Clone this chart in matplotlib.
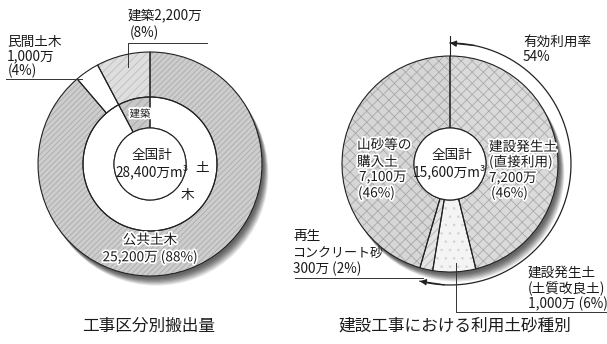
import matplotlib
matplotlib.use('Agg')
import matplotlib.pyplot as plt
from matplotlib.patches import Circle
import matplotlib.patheffects as pe
import numpy as np

plt.rcParams['font.family'] = ['Noto Sans CJK JP', 'DejaVu Sans']
plt.rcParams['hatch.linewidth'] = 0.6

# ---------------- data ----------------
left_outer_labels = ['建築', '民間土木', '公共土木']
left_outer_values = [2200, 1000, 25200]          # 万m3
left_outer_pct = [8, 4, 88]
left_inner_labels = ['建築', '土木']
left_inner_values = [2200, 26200]
left_total = 28400

right_labels = ['建設発生土(直接利用)', '建設発生土(土質改良土)', '再生コンクリート砂', '山砂等の購入土']
right_values = [7200, 1000, 300, 7100]            # 万m3
right_pct = [46, 6, 2, 46]
right_total = 15600
effective_rate = 54                                # %

titles = ['工事区分別搬出量', '建設工事における利用土砂種別']

# ---------------- layout ----------------
W, H = 607, 344
def Y(y):
    return H - y

fig = plt.figure(figsize=(W / 100, H / 100), dpi=100)
ax = fig.add_axes([0, 0, 1, 1])

LC = (150, Y(164)); L_OUT, L_MID, L_IN = 112, 67, 36
RC = (450, Y(164)); R_OUT, R_IN = 108, 36
EDGE = '#222222'
TXT = '#1a1a1a'
halo = [pe.withStroke(linewidth=2.5, foreground='white')]


def shadow(center, radius):
    for k, a in zip([8, 7, 6, 5, 4, 3, 2], [0.15, 0.18, 0.22, 0.26, 0.3, 0.35, 0.4]):
        ax.add_patch(Circle((center[0] + k * 0.8, center[1] - k * 1.2), radius,
                            facecolor='#555555', edgecolor='none', alpha=a, zorder=0))


def donut(values, center, radius, width, faces, hatches, hcolors, counterclock):
    wedges, _ = ax.pie(values, center=center, radius=radius, startangle=90,
                       counterclock=counterclock, colors=faces,
                       wedgeprops=dict(width=width, linewidth=0))
    for w, h, hc in zip(wedges, hatches, hcolors):
        w.set_hatch(h)
        w.set_edgecolor(hc)
        w.set_linewidth(0)
        w.set_zorder(1)
    wedges2, _ = ax.pie(values, center=center, radius=radius, startangle=90,
                        counterclock=counterclock,
                        wedgeprops=dict(width=width, linewidth=0.8, edgecolor=EDGE, fill=False))
    for w in wedges2:
        w.set_zorder(2)


# ---------------- left donut ----------------
shadow(LC, L_OUT)
donut(left_outer_values, LC, L_OUT, L_OUT - L_MID,
      ['#dedede', 'white', '#cdcdcd'], ['////', None, '//////'],
      ['#bdbdbd', 'white', '#ababab'], True)
donut(left_inner_values, LC, L_MID, L_MID - L_IN,
      ['#c8c8c8', 'white'], ['////', None], ['#a4a4a4', 'white'], True)
ax.add_patch(Circle(LC, L_IN, facecolor='white', edgecolor=EDGE, lw=0.8, zorder=3))

# ---------------- right donut ----------------
shadow(RC, R_OUT)
donut(right_values, RC, R_OUT, R_OUT - R_IN,
      ['#dadada', '#f4f4f4', '#e4e4e4', '#d6d6d6'],
      ['xxx', '..', '////', 'xxx'],
      ['#ababab', '#d4d4d4', '#b4b4b4', '#a8a8a8'], False)
ax.add_patch(Circle(RC, R_IN, facecolor='white', edgecolor=EDGE, lw=0.8, zorder=3))

# effective-use arc (54%)
r_arc = 121
th = np.radians(np.linspace(90, 90 - 360 * effective_rate / 100, 200))
ax.plot(RC[0] + r_arc * np.cos(th), RC[1] + r_arc * np.sin(th), color=EDGE, lw=0.9, zorder=4)
for i0, i1 in [(12, 0), (-13, -1)]:
    ax.annotate('', xy=(RC[0] + r_arc * np.cos(th[i1]), RC[1] + r_arc * np.sin(th[i1])),
                xytext=(RC[0] + r_arc * np.cos(th[i0]), RC[1] + r_arc * np.sin(th[i0])),
                arrowprops=dict(arrowstyle='-|>', color=EDGE, lw=0.9,
                                mutation_scale=9, shrinkA=0, shrinkB=0), zorder=5)
ax.plot([RC[0], RC[0]], [Y(36), RC[1] + R_OUT], color=EDGE, lw=0.8, zorder=4)

# ---------------- leader lines ----------------
LL = dict(color='#333333', lw=0.7, zorder=4)
ax.plot([128, 128, 207], [Y(67), Y(43), Y(43)], **LL)
ax.plot([6, 82], [Y(79), Y(79)], **LL)
ax.plot([295, 423], [Y(278), Y(278)], **LL)
ax.plot([456, 456, 607], [Y(263), Y(312), Y(312)], **LL)

# ---------------- texts ----------------
fs = 9.8
def T(x, y, s, ha='left', size=fs, halo_on=False, **kw):
    t = ax.text(x, Y(y), s, ha=ha, va='center', fontsize=size, color=TXT, zorder=6, **kw)
    if halo_on:
        t.set_path_effects(halo)
    return t

# left
T(128, 15, f'{left_outer_labels[0]}{left_outer_values[0]:,}万')
T(130, 33, f'({left_outer_pct[0]}%)')
T(7, 42, left_outer_labels[1])
T(7, 56, f'{left_outer_values[1]:,}万')
T(8, 71, f'({left_outer_pct[1]}%)')
T(140, 114, left_inner_labels[0], ha='center', size=7.5, halo_on=True)
T(152, 155, '全国計', ha='center')
T(152, 172, f'{left_total:,}万m³', ha='center')
T(202, 168, left_inner_labels[1][0], ha='center')
T(187, 195, left_inner_labels[1][1], ha='center')
T(150, 240, left_outer_labels[2], ha='center', halo_on=True)
T(150, 257, f'{left_outer_values[2]:,}万 ({left_outer_pct[2]}%)', ha='center', halo_on=True)

# right
T(523, 42, '有効利用率')
T(523, 57, f'{effective_rate}%')
T(357, 145, '山砂等の', halo_on=True)
T(357, 162, '購入土', halo_on=True)
T(359, 177, f'{right_values[3]:,}万', halo_on=True)
T(358, 193, f'({right_pct[3]}%)', halo_on=True)
T(452, 155, '全国計', ha='center')
T(450, 172, f'{right_total:,}万m³', ha='center')
T(489, 147, '建設発生土', halo_on=True)
T(489, 162, '(直接利用)', halo_on=True)
T(489, 178, f'{right_values[0]:,}万', halo_on=True)
T(491, 193, f'({right_pct[0]}%)', halo_on=True)
T(293, 236, '再生')
T(293, 253, 'コンクリート砂', size=9.4)
T(293, 269, f'{right_values[2]:,}万 ({right_pct[2]}%)')
T(528, 273, '建設発生土')
T(528, 289, '(土質改良土)')
T(528, 304, f'{right_values[1]:,}万 ({right_pct[1]}%)')

# titles
T(149, 326, titles[0], ha='center', size=12)
T(455, 326, titles[1], ha='center', size=12)

ax.set_xlim(0, W)
ax.set_ylim(0, H)
ax.set_aspect('auto')
ax.axis('off')
fig.savefig('out.png', dpi=100, facecolor='white')
